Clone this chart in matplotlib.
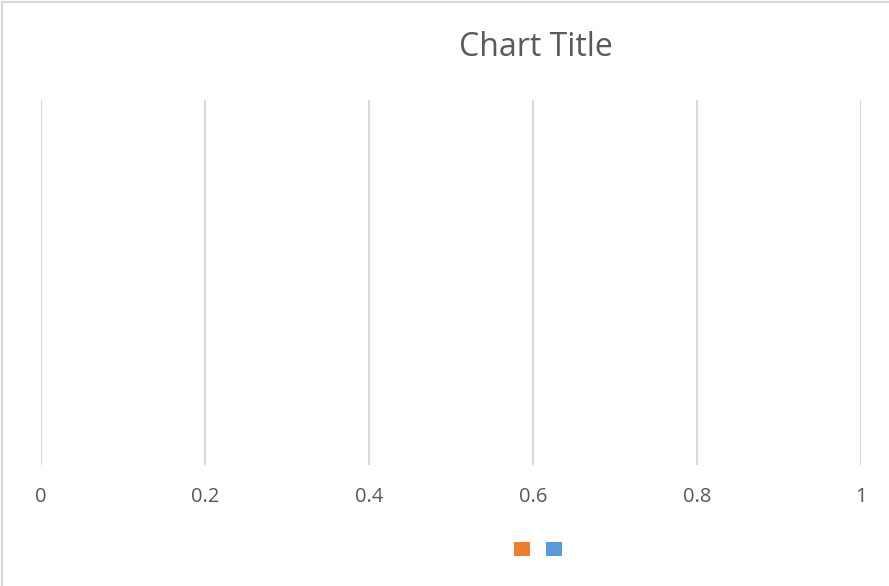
import matplotlib
matplotlib.use("Agg")
import matplotlib.pyplot as plt
from matplotlib.patches import Patch
from matplotlib.lines import Line2D

plt.rcParams['font.family'] = ['Open Sans', 'DejaVu Sans']

# Datos (gráfico vacío: sin categorías ni valores)
categorias = []
serie1 = []
serie2 = []
colores = ['#ED7D31', '#5B9BD5']
ticks_x = [0, 0.2, 0.4, 0.6, 0.8, 1]
etiquetas_x = ['0', '0.2', '0.4', '0.6', '0.8', '1']
titulo = "Chart Title"

fig = plt.figure(figsize=(8.89, 5.86), dpi=100)
ax = fig.add_axes([41 / 889, 121 / 586, 820 / 889, 365 / 586])

ax.barh(categorias, serie1, color=colores[0])
ax.barh(categorias, serie2, color=colores[1])

ax.set_xlim(0, 1)
ax.set_ylim(0, 1)
ax.set_xticks(ticks_x)
ax.set_xticklabels(etiquetas_x, color='#595959', fontsize=14.5)
ax.set_yticks([])
ax.tick_params(axis='x', length=0, pad=16)
ax.grid(True, axis='x', color='#D9D9D9', linewidth=1.5)
for s in ax.spines.values():
    s.set_visible(False)

fig.text(536 / 889, 1 - 48 / 586, titulo, ha='center', va='center',
         fontsize=23, color='#595959')

manejadores = [Patch(facecolor=c, edgecolor='none') for c in colores]
fig.legend(manejadores, ['', ''], loc='center', bbox_to_anchor=(538 / 889, 1 - 550 / 586),
           ncol=2, frameon=False, fontsize=11.7, handlelength=1.0, handleheight=1.0,
           handletextpad=0.0, columnspacing=1.0)

# borde del área del gráfico (solo izquierda y arriba visibles)
fig.add_artist(Line2D([1.5 / 889, 1.5 / 889], [0, 1 - 1.5 / 586], transform=fig.transFigure,
                      color='#D9D9D9', linewidth=1.5))
fig.add_artist(Line2D([1.5 / 889, 1], [1 - 1.5 / 586, 1 - 1.5 / 586], transform=fig.transFigure,
                      color='#D9D9D9', linewidth=1.5))

fig.savefig("out.png", dpi=100)
